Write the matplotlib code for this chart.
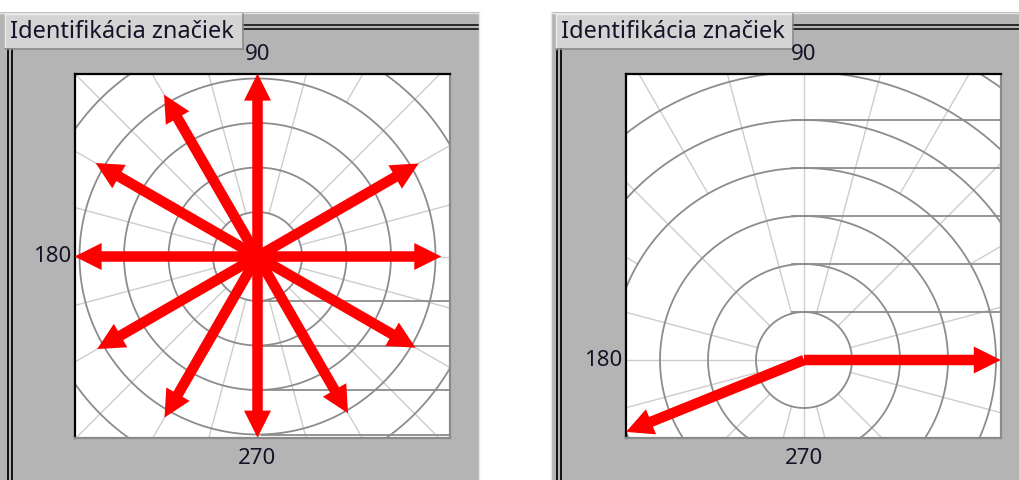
import matplotlib
matplotlib.use("Agg")
import matplotlib.pyplot as plt
import numpy as np
from matplotlib.patches import FancyArrow, Rectangle

TITLE = "Identifikácia značiek"
LABEL_TOP = "90"
LABEL_LEFT = "180"
LABEL_BOTTOM = "270"

# rings of the polar grid (grid units)
LEFT_RINGS = [1, 2, 3, 4, 5, 6]
RIGHT_RINGS = [1, 2, 3, 4, 5, 6, 7]

# arrows: direction in degrees, length in grid units
LEFT_ARROW_ANGLES = [0, 30, 90, 120, 150, 180, 210, 240, 270, 300, 330]
LEFT_ARROW_LENGTHS = [4.13, 4.18, 4.11, 4.2, 4.2, 4.11, 4.16, 4.18, 4.07, 4.07, 4.1]
RIGHT_ARROW_ANGLES = [0, 202]
RIGHT_ARROW_LENGTHS = [4.1, 4.0]

# stray horizontal grid lines drawn by the control
LEFT_STRAY_LINES = [-1, -2, -3, -4]
RIGHT_STRAY_LINES = [1, 2, 3, 4, 5]

# minor spokes: odd multiples of 15 start at ring 1, the rest further out
INNER_SPOKES = [15, 45, 75, 105, 135, 165, 195, 225, 255, 285, 315, 345]
OUTER_SPOKES = [30, 60, 120, 150, 210, 240, 300, 330]

PANEL_GRAY = "#b4b4b4"
TAB_GRAY = "#d4d4d4"
RING_GRAY = "#8c8c8c"
SPOKE_GRAY = "#cdcdcd"
TEXT_COLOR = "#141428"
FONT = ["Noto Sans", "DejaVu Sans"]

W, H = 1019, 480
fig = plt.figure(figsize=(W / 100, H / 100), dpi=100)
fig.patch.set_facecolor("white")

bg = fig.add_axes([0, 0, 1, 1])
bg.set_xlim(0, W)
bg.set_ylim(H, 0)
bg.axis("off")


def draw_frame(x0, x1, tab_x0, tab_x1, vline_x):
    bg.add_patch(Rectangle((x0, 12), x1 - x0, H - 12, facecolor=PANEL_GRAY, edgecolor="none"))
    bg.plot([x0, x1], [12.5, 12.5], color="#e6e6e6", lw=1)
    # group box lines
    for y in (24.5, 28.5):
        bg.plot([tab_x1, x1], [y, y], color="#111111", lw=1.2)
    for x in vline_x:
        bg.plot([x, x], [49, H], color="#111111", lw=1.4)
    # tab
    bg.add_patch(Rectangle((tab_x0, 13.5), tab_x1 - tab_x0, 35, facecolor=TAB_GRAY,
                           edgecolor="none"))
    bg.plot([tab_x0, tab_x1], [14, 14], color="#ececec", lw=1)
    bg.plot([tab_x0, tab_x0], [14, 49], color="#ececec", lw=1)
    bg.plot([tab_x1, tab_x1], [14, 49], color="#8a8a8a", lw=1.2)
    bg.plot([tab_x0, tab_x1], [48.5, 48.5], color="#8a8a8a", lw=1.2)
    bg.text(tab_x0 + 5, 32, TITLE, fontsize=17, color=TEXT_COLOR, family=FONT,
            ha="left", va="center")


def draw_polar(box, center, scale, rings, arrow_angles, arrow_lengths, stray_lines,
               outer_start):
    left, top, right, bottom = box
    cx, cy = center
    ax = fig.add_axes([left / W, 1 - bottom / H, (right - left) / W, (bottom - top) / H])
    ax.set_xlim((left - cx) / scale, (right - cx) / scale)
    ax.set_ylim((cy - bottom) / scale, (cy - top) / scale)
    ax.set_facecolor("white")
    ax.set_xticks([])
    ax.set_yticks([])
    for side in ("top", "left"):
        ax.spines[side].set_color("#000000")
        ax.spines[side].set_linewidth(1.6)
    for side in ("right", "bottom"):
        ax.spines[side].set_color("#8a8a8a")
        ax.spines[side].set_linewidth(1.6)

    rmax = max(rings)
    # axes spokes
    ax.axhline(0, color=SPOKE_GRAY, lw=1, zorder=1)
    ax.axvline(0, color=SPOKE_GRAY, lw=1, zorder=1)
    for a in INNER_SPOKES:
        t = np.deg2rad(a)
        ax.plot([np.cos(t), rmax * np.cos(t)], [np.sin(t), rmax * np.sin(t)],
                color=SPOKE_GRAY, lw=1, zorder=1)
    for a in OUTER_SPOKES:
        t = np.deg2rad(a)
        ax.plot([outer_start * np.cos(t), rmax * np.cos(t)],
                [outer_start * np.sin(t), rmax * np.sin(t)],
                color=SPOKE_GRAY, lw=1, zorder=1)

    theta = np.linspace(0, 2 * np.pi, 361)
    for r in rings:
        ax.plot(r * np.cos(theta), r * np.sin(theta), color=RING_GRAY, lw=1.3, zorder=2)
    xmax = ax.get_xlim()[1]
    for y in stray_lines:
        ax.plot([-0.25 if y > 0 else 0.1, xmax], [y, y], color=RING_GRAY, lw=1.3, zorder=2)

    shaft = 10.5 / scale
    head_w = 27 / scale
    head_l = 27 / scale
    for a, length in zip(arrow_angles, arrow_lengths):
        t = np.deg2rad(a)
        ax.add_patch(FancyArrow(0, 0, length * np.cos(t), length * np.sin(t),
                                width=shaft, head_width=head_w, head_length=head_l,
                                length_includes_head=True, color="#ff0000", lw=0,
                                zorder=5))

    # angle labels
    bg.text(cx, 55, LABEL_TOP, fontsize=16, color=TEXT_COLOR, family=FONT,
            ha="center", va="center")
    bg.text(left - 4, cy, LABEL_LEFT, fontsize=16, color=TEXT_COLOR, family=FONT,
            ha="right", va="center")
    bg.text(cx, 458, LABEL_BOTTOM, fontsize=16, color=TEXT_COLOR, family=FONT,
            ha="center", va="center")
    return ax


draw_frame(0, 479, 5.5, 243, [8.5, 12])
bg.plot([479, 479], [12, H], color="#e6e6e6", lw=1)
draw_frame(551, W, 556.5, 793.5, [557.5, 561.5])
bg.plot([551.5, 551.5], [12, H], color="#e6e6e6", lw=1)

draw_polar((75, 74, 450, 438), (257.5, 256.5), 44.5, LEFT_RINGS,
           LEFT_ARROW_ANGLES, LEFT_ARROW_LENGTHS, LEFT_STRAY_LINES, 4)
draw_polar((626, 74, 1001, 438), (804, 360), 48, RIGHT_RINGS,
           RIGHT_ARROW_ANGLES, RIGHT_ARROW_LENGTHS, RIGHT_STRAY_LINES, 4)

fig.savefig("out.png", dpi=100)
